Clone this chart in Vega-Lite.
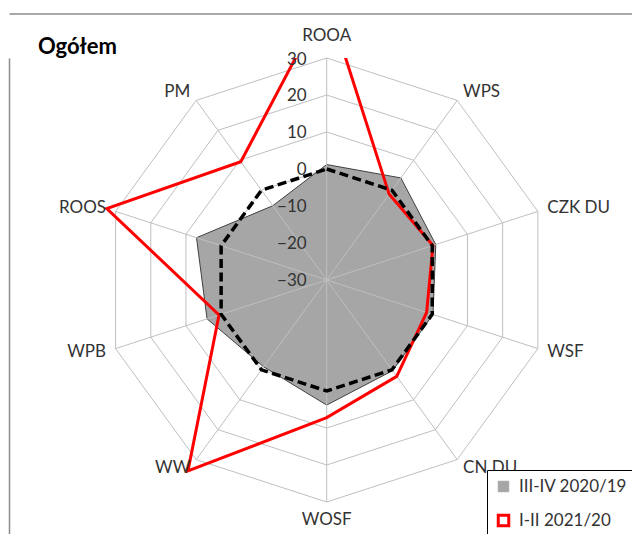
{
  "$schema": "https://vega.github.io/schema/vega-lite/v6.json",
  "width": 623,
  "height": 476,
  "autosize": {"type": "none"},
  "padding": {"left": 9, "top": 58, "right": 0, "bottom": 0},
  "background": "#ffffff",
  "config": {"view": {"stroke": null}, "font": "Lato"},
  "title": {"text": "Ogółem", "anchor": "start", "frame": "group", "font": "Lato", "fontSize": 22, "fontWeight": "bold", "color": "#000000", "dx": 29, "dy": 47, "offset": 2},
  "datasets": {
    "axes": [
      {"axis": "ROOA", "i": 0}, {"axis": "WPS", "i": 1}, {"axis": "CZK DU", "i": 2}, {"axis": "WSF", "i": 3}, {"axis": "CN DU", "i": 4},
      {"axis": "WOSF", "i": 5}, {"axis": "WW", "i": 6}, {"axis": "WPB", "i": 7}, {"axis": "ROOS", "i": 8}, {"axis": "PM", "i": 9}
    ],
    "ticks": [{"t": -30}, {"t": -20}, {"t": -10}, {"t": 0}, {"t": 10}, {"t": 20}, {"t": 30}],
    "values": [
      {"axis": "ROOA", "i": 0, "series": "III-IV 2020/19", "value": 1.2},
      {"axis": "WPS", "i": 1, "series": "III-IV 2020/19", "value": 4.1},
      {"axis": "CZK DU", "i": 2, "series": "III-IV 2020/19", "value": 1.0},
      {"axis": "WSF", "i": 3, "series": "III-IV 2020/19", "value": 0.2},
      {"axis": "CN DU", "i": 4, "series": "III-IV 2020/19", "value": 0.3},
      {"axis": "WOSF", "i": 5, "series": "III-IV 2020/19", "value": 3.8},
      {"axis": "WW", "i": 6, "series": "III-IV 2020/19", "value": -1.0},
      {"axis": "WPB", "i": 7, "series": "III-IV 2020/19", "value": 4.0},
      {"axis": "ROOS", "i": 8, "series": "III-IV 2020/19", "value": 7.0},
      {"axis": "PM", "i": 9, "series": "III-IV 2020/19", "value": -5.2},
      {"axis": "ROOA", "i": 0, "series": "I-II 2021/20", "value": 46},
      {"axis": "WPS", "i": 1, "series": "I-II 2021/20", "value": -1.3},
      {"axis": "CZK DU", "i": 2, "series": "I-II 2021/20", "value": 0.2},
      {"axis": "WSF", "i": 3, "series": "I-II 2021/20", "value": -1.6},
      {"axis": "CN DU", "i": 4, "series": "I-II 2021/20", "value": 2.2},
      {"axis": "WOSF", "i": 5, "series": "I-II 2021/20", "value": 7.2},
      {"axis": "WW", "i": 6, "series": "I-II 2021/20", "value": 33.8},
      {"axis": "WPB", "i": 7, "series": "I-II 2021/20", "value": 0.6},
      {"axis": "ROOS", "i": 8, "series": "I-II 2021/20", "value": 32.5},
      {"axis": "PM", "i": 9, "series": "I-II 2021/20", "value": 9.5},
      {"axis": "ROOA", "i": 0, "series": "0", "value": 0},
      {"axis": "WPS", "i": 1, "series": "0", "value": 0},
      {"axis": "CZK DU", "i": 2, "series": "0", "value": 0},
      {"axis": "WSF", "i": 3, "series": "0", "value": 0},
      {"axis": "CN DU", "i": 4, "series": "0", "value": 0},
      {"axis": "WOSF", "i": 5, "series": "0", "value": 0},
      {"axis": "WW", "i": 6, "series": "0", "value": 0},
      {"axis": "WPB", "i": 7, "series": "0", "value": 0},
      {"axis": "ROOS", "i": 8, "series": "0", "value": 0},
      {"axis": "PM", "i": 9, "series": "0", "value": 0}
    ]
  },
  "encoding": {
    "x": {"field": "x", "type": "quantitative",
          "axis": {"orient": "top", "offset": 44.5, "domain": true, "domainColor": "#8c8c8c", "domainWidth": 1.5, "ticks": false, "labels": false, "grid": false, "title": null},
          "scale": {"domain": [-85.865, 82.514], "nice": false, "zero": false}},
    "y": {"field": "y", "type": "quantitative",
          "axis": {"orient": "left", "offset": 0, "domain": true, "domainColor": "#8c8c8c", "domainWidth": 1.5, "ticks": false, "labels": false, "grid": false, "title": null},
          "scale": {"domain": [-68.65, 60], "nice": false, "zero": false}}
  },
  "layer": [
    {
      "data": {"name": "axes"},
      "transform": [
        {"calculate": "[-20, -10, 0, 10, 20, 30]", "as": "levels"},
        {"flatten": ["levels"], "as": ["level"]},
        {"calculate": "(datum.level + 30) * sin(datum.i * PI / 5)", "as": "x"},
        {"calculate": "(datum.level + 30) * cos(datum.i * PI / 5)", "as": "y"}
      ],
      "mark": {"type": "line", "interpolate": "linear-closed", "stroke": "#bfbfbf", "strokeWidth": 1},
      "encoding": {
        "detail": {"field": "level", "type": "nominal"},
        "order": {"field": "i", "type": "quantitative"}
      }
    },
    {
      "data": {"name": "values"},
      "transform": [
        {"filter": "datum.series === 'III-IV 2020/19'"},
        {"calculate": "(datum.value + 30) * sin(datum.i * PI / 5)", "as": "x"},
        {"calculate": "(datum.value + 30) * cos(datum.i * PI / 5)", "as": "y"}
      ],
      "mark": {"type": "line", "interpolate": "linear-closed", "strokeWidth": 1, "fill": "#a6a6a6", "stroke": "#404040"},
      "encoding": {
        "order": {"field": "i", "type": "quantitative"}
      }
    },
    {
      "data": {"name": "axes"},
      "transform": [
        {"calculate": "60 * sin(datum.i * PI / 5)", "as": "x"},
        {"calculate": "60 * cos(datum.i * PI / 5)", "as": "y"},
        {"calculate": "0", "as": "cx"},
        {"calculate": "0", "as": "cy"}
      ],
      "mark": {"type": "rule", "stroke": "#bfbfbf", "strokeWidth": 1},
      "encoding": {
        "x2": {"field": "cx"},
        "y2": {"field": "cy"}
      }
    },
    {
      "data": {"name": "values"},
      "transform": [
        {"filter": "datum.series === 'I-II 2021/20'"},
        {"calculate": "(datum.value + 30) * sin(datum.i * PI / 5)", "as": "x"},
        {"calculate": "(datum.value + 30) * cos(datum.i * PI / 5)", "as": "y"}
      ],
      "mark": {"type": "line", "interpolate": "linear-closed", "strokeWidth": 3, "clip": true},
      "encoding": {
        "order": {"field": "i", "type": "quantitative"},
        "color": {
          "field": "series", "type": "nominal",
          "scale": {"domain": ["III-IV 2020/19", "I-II 2021/20"], "range": ["#a6a6a6", "#ff0000"]},
          "legend": {
            "title": null, "orient": "none", "legendX": 478, "legendY": 412,
            "padding": 8, "strokeColor": "#000000", "fillColor": "#ffffff",
            "labelFont": "Lato", "labelFontSize": 17, "labelColor": "#333333", "labelLimit": 300,
            "symbolType": "square", "symbolSize": 110, "rowPadding": 14, "labelOffset": 7,
            "encode": {
              "symbols": {
                "update": {
                  "fill": {"signal": "datum.value === 'III-IV 2020/19' ? '#a6a6a6' : '#ffffff'"},
                  "stroke": {"signal": "datum.value === 'III-IV 2020/19' ? '#404040' : '#ff0000'"},
                  "strokeWidth": {"signal": "datum.value === 'III-IV 2020/19' ? 1 : 3"}
                }
              }
            }
          }
        }
      }
    },
    {
      "data": {"name": "values"},
      "transform": [
        {"filter": "datum.series === '0'"},
        {"calculate": "(datum.value + 30) * sin(datum.i * PI / 5)", "as": "x"},
        {"calculate": "(datum.value + 30) * cos(datum.i * PI / 5)", "as": "y"}
      ],
      "mark": {"type": "line", "interpolate": "linear-closed", "stroke": "#000000", "strokeWidth": 3.5, "strokeDash": [9, 4.5]},
      "encoding": {
        "order": {"field": "i", "type": "quantitative"}
      }
    },
    {
      "data": {"name": "ticks"},
      "transform": [{"calculate": "datum.t + 30", "as": "y"}, {"calculate": "0", "as": "x"}],
      "mark": {"type": "text", "align": "right", "baseline": "middle", "dx": -20, "dy": 1.5, "font": "Lato", "fontSize": 17, "color": "#333333"},
      "encoding": {
        "text": {"field": "t", "type": "quantitative", "format": "d"}
      }
    },
    {
      "data": {"name": "axes"},
      "transform": [
        {"filter": "datum.i === 0"},
        {"calculate": "62.7 * sin(datum.i * PI / 5)", "as": "x"},
        {"calculate": "62.7 * cos(datum.i * PI / 5)", "as": "y"}
      ],
      "mark": {"type": "text", "align": "center", "baseline": "middle", "dy": -12, "font": "Lato", "fontSize": 17, "color": "#333333"},
      "encoding": {
        "text": {"field": "axis", "type": "nominal"}
      }
    },
    {
      "data": {"name": "axes"},
      "transform": [
        {"filter": "datum.i === 5"},
        {"calculate": "62.7 * sin(datum.i * PI / 5)", "as": "x"},
        {"calculate": "62.7 * cos(datum.i * PI / 5)", "as": "y"}
      ],
      "mark": {"type": "text", "align": "center", "baseline": "middle", "dy": 8, "font": "Lato", "fontSize": 17, "color": "#333333"},
      "encoding": {
        "text": {"field": "axis", "type": "nominal"}
      }
    },
    {
      "data": {"name": "axes"},
      "transform": [
        {"filter": "datum.i >= 1 && datum.i <= 4"},
        {"calculate": "62.7 * sin(datum.i * PI / 5)", "as": "x"},
        {"calculate": "62.7 * cos(datum.i * PI / 5)", "as": "y"}
      ],
      "mark": {"type": "text", "align": "left", "baseline": "middle", "font": "Lato", "fontSize": 17, "color": "#333333"},
      "encoding": {
        "text": {"field": "axis", "type": "nominal"}
      }
    },
    {
      "data": {"name": "axes"},
      "transform": [
        {"filter": "datum.i >= 6"},
        {"calculate": "62.7 * sin(datum.i * PI / 5)", "as": "x"},
        {"calculate": "62.7 * cos(datum.i * PI / 5)", "as": "y"}
      ],
      "mark": {"type": "text", "align": "right", "baseline": "middle", "font": "Lato", "fontSize": 17, "color": "#333333"},
      "encoding": {
        "text": {"field": "axis", "type": "nominal"}
      }
    }
  ]
}
